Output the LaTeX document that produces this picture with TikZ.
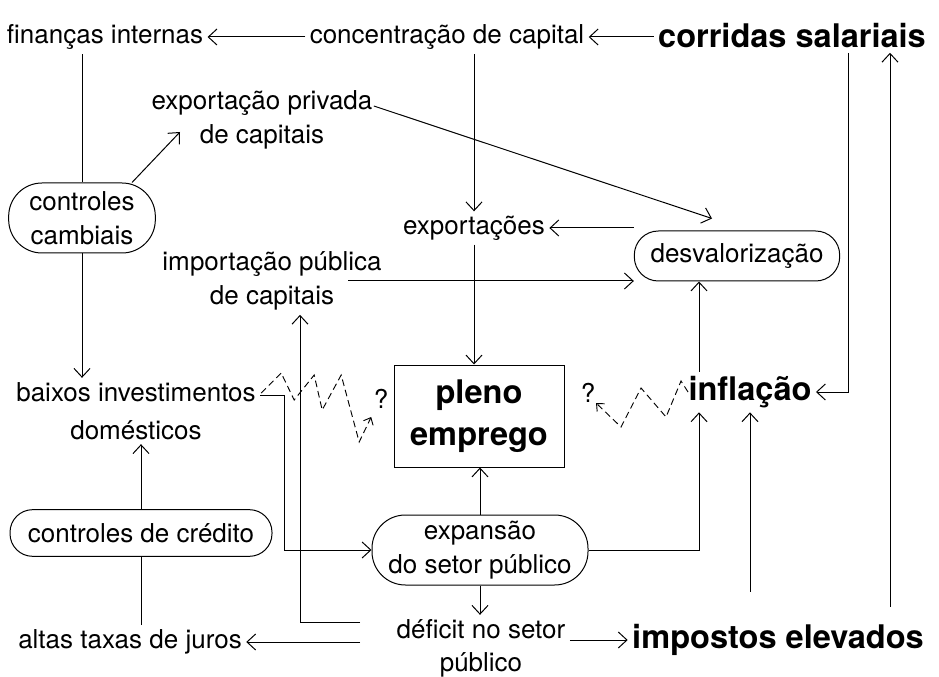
\documentclass[tikz,border=0pt]{standalone}
\usepackage{fontspec}
\setmainfont{TeX Gyre Heros}
\usetikzlibrary{arrows.meta,calc}

\tikzset{every picture/.style={line width=0.75pt}}
\tikzset{
  lbl/.style={inner sep=3pt, align=center, font=\fontsize{19.5}{25.5}\selectfont},
  boldlbl/.style={inner sep=3pt, align=center, font=\fontsize{24.4}{31.5}\selectfont\bfseries},
  pill/.style={lbl, draw, rounded corners=17pt, inner sep=0pt},
  plainbox/.style={boldlbl, draw, inner sep=0pt},
  arr/.style={->, >={Straight Barb[length=6.5pt,width=12pt]}},
  zig/.style={->, >={Straight Barb[length=4.5pt,width=8pt]}, dash pattern=on 5pt off 3pt, line width=0.7pt}
}

\begin{document}
\begin{tikzpicture}[x=0.75pt,y=0.75pt,yscale=-1,xscale=1]
	\useasboundingbox (0,0) rectangle (939,677);

	% Text Node
	\draw (105,37) node (fin) [lbl] {finanças internas};
	% Text Node
	\draw (447,37) node (conc) [lbl] {concentração de capital};
	% Text Node
	\draw (792,36) node (corr) [boldlbl] {corridas salariais};
	% Text Node
	\draw (262,120) node (expriv) [lbl] {exportação privada\\de capitais};
	% Rounded Rect
	\draw (82,218) node (cambiais) [pill, rounded corners=25pt, minimum width=110pt, minimum height=52.5pt] {controles\\cambiais};
	% Text Node
	\draw (474,228) node (export) [lbl] {exportações};
	% Rounded Rect
	\draw (737,256) node (desval) [pill, rounded corners=18pt, minimum width=154pt, minimum height=37.5pt] {desvalorização};
	% Text Node
	\draw (272,281) node (impub) [lbl] {importação pública\\de capitais};
	% Shape: Rectangle
	\draw (479,416) node (pleno) [plainbox, minimum width=127.5pt, minimum height=76.5pt] {pleno\\emprego};
	% Text Node
	\draw (750,392) node (infl) [boldlbl] {inflação};
	% Text Node
	\draw (136,411) node (baixos) [lbl] {baixos investimentos\\[3pt]domésticos};
	% Text Node
	\draw (381,399) node (q1) [lbl] {?};
	% Text Node
	\draw (588,393) node (q2) [lbl] {?};
	% Rounded Rect
	\draw (141,533) node (credito) [pill, minimum width=196.5pt, minimum height=35pt] {controles de crédito};
	% Rounded Rect
	\draw (480,550) node (expansao) [pill, rounded corners=25pt, minimum width=162pt, minimum height=52.5pt] {expansão\\do setor público};
	% Text Node
	\draw (130,642) node (altas) [lbl] {altas taxas de juros};
	% Text Node
	\draw (481,648) node (deficit) [lbl] {déficit no setor\\[-1pt]público};
	% Text Node
	\draw (778,640) node (impostos) [boldlbl] {impostos elevados};

	\coordinate (infl-left) at ($(infl.north west)+(15,0)$);
	\coordinate (corr-right) at ($(corr.south)+(56,0)$);
	\coordinate (imp-right) at ($(impostos.north)+(112,-13)$);
	\coordinate (baixos-out) at ($(baixos.east)+(0,-16)$);
	\coordinate (def-out) at ($(deficit.north west)+(-32,8)$);
	\coordinate (impub-in) at ($(impub.south)+(28,0)$);

	%Straight Lines
	\draw [arr] (conc) -- (fin);
	%Straight Lines
	\draw [arr] (corr.west |- conc.east) -- (conc.east);
	%Straight Lines
	\draw (cambiais.north |- fin.south) -- (cambiais.north);
	%Straight Lines
	\draw [arr] ($(cambiais.north)+(50,0)$) -- ($(expriv.center)+(-82,12)$);
	%Straight Lines
	\draw [arr] ($(expriv.east)+(-3,-14)$) -- ($(desval.north)+(-25,-12)$);
	%Straight Lines
	\draw [arr] (conc.south -| export.north) -- (export.north);
	%Straight Lines
	\draw [arr] (desval.west |- export.east) -- (export.east);
	%Straight Lines
	\draw [arr] ($(impub.east)+(-38,0)$) -- (impub.east -| desval.west);
	%Straight Lines
	\draw [arr] (export.south) -- (export.south |- pleno.north);
	%Straight Lines
	\draw [arr] (infl-left) -- (infl-left |- desval.south);
	%Straight Lines
	\draw [arr] (corr-right) |- (infl.east);
	%Straight Lines
	\draw [arr] (imp-right) -- (imp-right |- corr.south);
	%Straight Lines
	\draw [arr] ($(impostos.north -| infl.south)+(0,-28)$) -- (infl.south);
	%Straight Lines
	\draw [arr] (expansao.east) -| (infl-left |- infl.south);
	%Straight Lines
	\draw [arr] (baixos-out) -- ++(24,0) |- (expansao.west);
	%Straight Lines
	\draw [arr] (def-out) -| (impub-in);
	%Straight Lines
	\draw [arr] ($(deficit.west |- altas.east)+(-32,0)$) -- (altas.east);
	%Straight Lines
	\draw [arr] (deficit.east |- impostos.west) -- (impostos.west);
	%Straight Lines
	\draw [arr] (expansao.north) -- (expansao.north |- pleno.south);
	%Straight Lines
	\draw [arr] (expansao.south) -- (expansao.south |- deficit.north);
	%Straight Lines
	\draw [arr] (cambiais.south) -- (cambiais.south |- baixos.north);
	%Straight Lines
	\draw [arr] (credito.north) -- (credito.north |- baixos.south);
	%Straight Lines
	\draw (altas.north -| credito.south) -- (credito.south);

	%Dashed Zigzag
	\draw [zig] ($(baixos.east)+(1,-18)$) -- ++(20,-20) -- ++(13,27) -- ++(20,-25) -- ++(8,35) -- ++(19,-35) -- ++(18,67) -- ++(12,-25);
	%Dashed Zigzag
	\draw [zig] ($(infl.west)+(4,0)$) -- ++(-7,-11) -- ++(-15,36) -- ++(-25,-29) -- ++(-20,39) -- ++(-25,-24);

\end{tikzpicture}
\end{document}
